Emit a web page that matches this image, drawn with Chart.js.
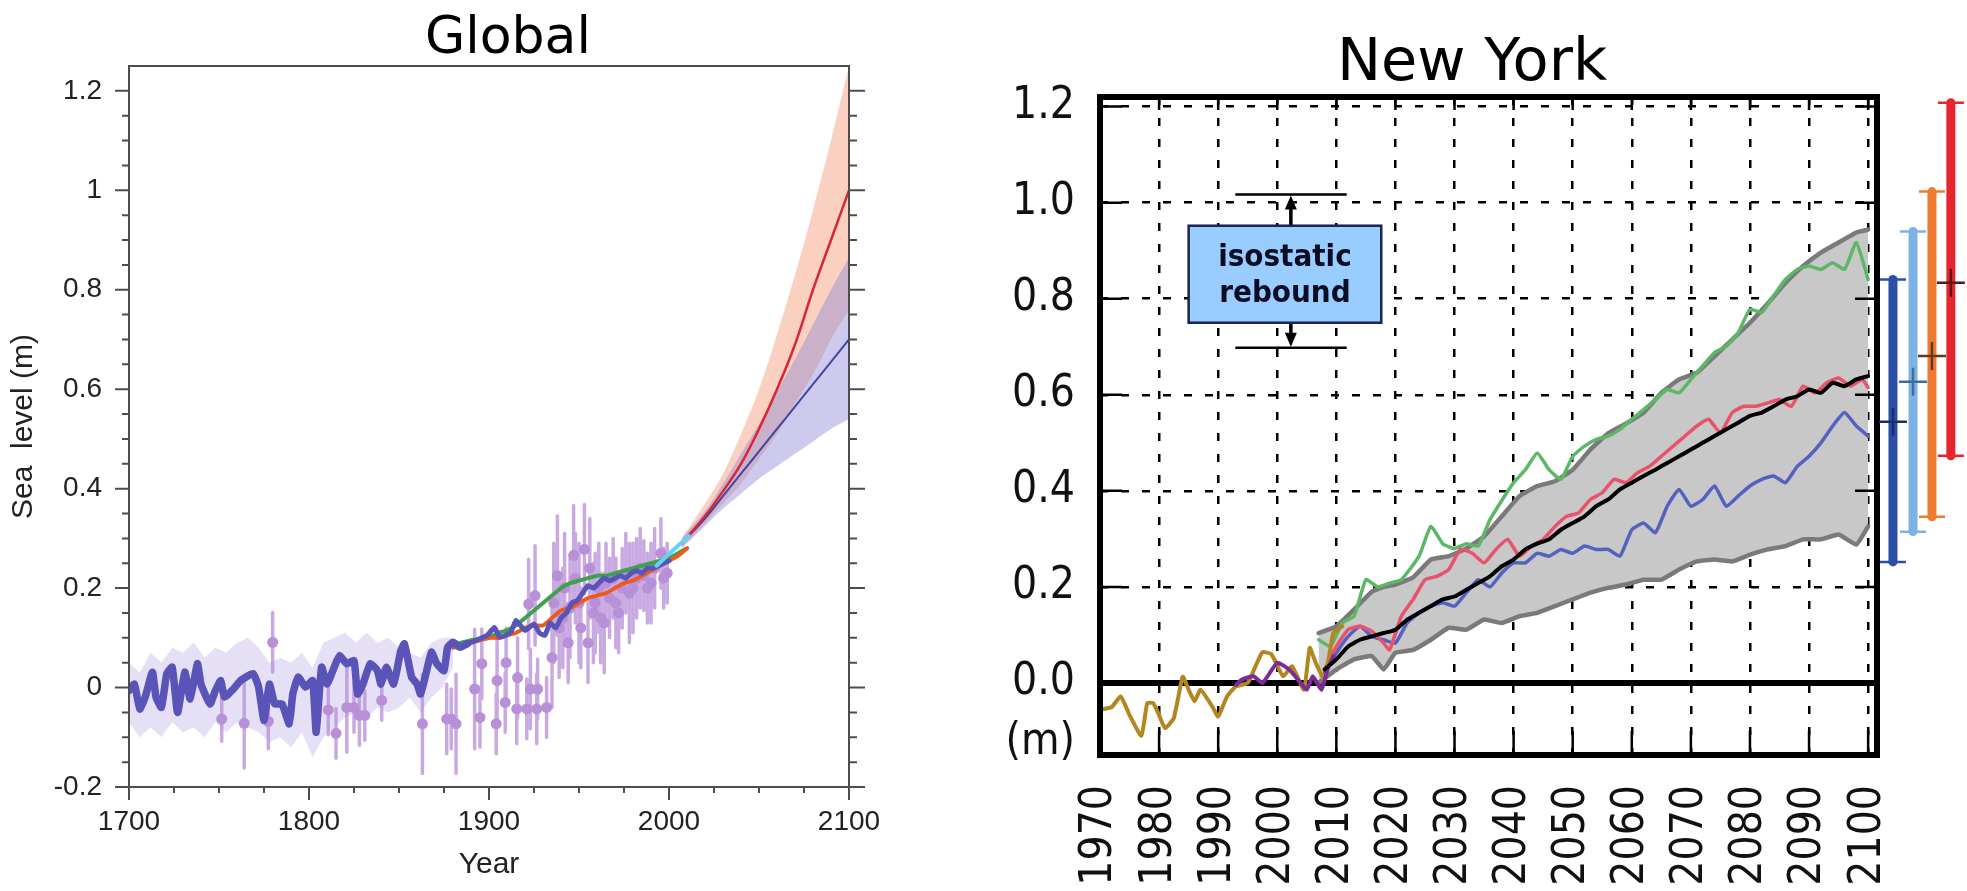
<!DOCTYPE html>
<html>
<head>
<meta charset="utf-8">
<title>Sea level: Global and New York</title>
<script src="https://cdn.jsdelivr.net/npm/chart.js@4.4.1/dist/chart.umd.min.js"></script>
<style>
  html, body { margin: 0; padding: 0; background: #fff; }
  body { position: relative; width: 1967px; height: 891px; overflow: hidden; }
  .panel-title { position: absolute; font-family: "DejaVu Sans", sans-serif; line-height: 1; white-space: nowrap; transform: translateX(-50%); color: #000; }
  #globalTitle { left: 508px; top: 9px; font-size: 52px; }
  #nyTitle { left: 1472px; top: 30px; font-size: 59px; }
  #globalChart { position: absolute; left: 0; top: 0; }
  #nyChart { position: absolute; left: 940px; top: 0; }
</style>
</head>
<body>
<div class="panel-title" id="globalTitle">Global</div>
<div class="panel-title" id="nyTitle">New York</div>
<canvas id="globalChart" width="930" height="891"></canvas>
<canvas id="nyChart" width="1027" height="891"></canvas>
<script>
// ---------- Global panel ----------
const globalYearTicks = [1700, 1800, 1900, 2000, 2100];
const globalLevelTicks = [-0.2, 0, 0.2, 0.4, 0.6, 0.8, 1, 1.2];

// reconstruction (thick slate-blue line)
const reconYears = [1700,1703,1706,1709,1713,1715,1718,1721,1724,1727,1731,1734,1738,1740,1745,1748,1751,1753,1758,1762,
  1765,1769,1772,1775,1778,1781,1785,1789,1791,1794,1798,1802,1804,1807,1810,1814,1817,1821,1825,1827,
  1830,1834,1838,1840,1843,1847,1851,1853,1857,1860,1862,1865,1868,1871,1875,1877,1880,1884,1888,1893,
  1899,1903,1906,1912,1915,1920,1925,1928,1931,1934,1937,1940,1943,1946,1949,1952,1955,1958,1961,1964,
  1967,1970,1973,1976,1979,1982,1985,1988,1991,1994,1997,2000];
const reconLevel = [-0.006,0.007,-0.043,-0.019,0.031,-0.019,-0.040,0.028,0.041,-0.050,0.031,-0.023,0.048,0.007,-0.033,-0.006,0.014,-0.019,-0.003,0.014,
  0.021,0.028,0.001,-0.066,0.007,-0.033,-0.033,-0.073,-0.013,0.021,0.001,0.014,-0.090,0.041,0.007,0.041,0.064,0.048,0.054,-0.013,
  0.007,0.048,0.034,0.007,0.041,0.007,0.074,0.088,0.021,0.007,-0.013,0.028,0.071,0.048,0.034,0.081,0.091,0.081,0.088,0.095,
  0.105,0.121,0.101,0.111,0.135,0.115,0.128,0.11,0.105,0.13,0.12,0.14,0.15,0.17,0.175,0.19,0.205,0.2,0.21,0.22,
  0.215,0.22,0.225,0.22,0.23,0.235,0.23,0.24,0.24,0.245,0.25,0.255];

// reconstruction uncertainty
const reconBandYears = [1700,1706,1712,1718,1724,1730,1736,1742,1748,1754,1760,1766,1772,1778,1784,1790,1796,1802,1808,1814,
  1820,1826,1832,1838,1844,1850,1856,1862,1868,1874,1880];
const reconBandHigh = [0.05,0.03,0.07,0.05,0.08,0.07,0.09,0.06,0.08,0.07,0.09,0.1,0.08,0.05,0.06,0.05,0.07,0.04,0.09,0.1,
  0.11,0.09,0.11,0.09,0.1,0.08,0.07,0.06,0.09,0.1,0.1];
const reconBandLow = [-0.07,-0.1,-0.08,-0.1,-0.07,-0.09,-0.08,-0.1,-0.07,-0.09,-0.07,-0.08,-0.09,-0.11,-0.1,-0.12,-0.09,-0.14,-0.1,-0.08,
  -0.06,-0.05,-0.06,-0.04,-0.05,-0.04,-0.02,-0.05,-0.02,0.0,0.04];

// proxy / gauge points with error bars
const gaugeYears = [1751.5,1764,1777.4,1779.8,1810.7,1815,1821,1825,1828,1831,1840.4,1863,1876.5,1879,1881.7,1892,1895,1896,1904,1904.5,
  1909,1909.5,1915.4,1915.9,1921,1922,1923,1925.6,1926.5,1927,1932,1935,1938,1941,1944,1947,1950,1953,1955,1958,
  1961,1964,1967,1970.5,1974,1978,1982,1986,1990,1995.5,1999,
  1936,1939,1942,1945,1948,1951,1956,1959,1962,1965,1969,1972,1976,1980,1984,1988,1992,1997];
const gaugeLevel = [-0.063,-0.072,-0.068,0.091,-0.045,-0.092,-0.04,-0.04,-0.056,-0.056,-0.026,-0.073,-0.063,-0.063,-0.073,-0.003,-0.06,0.048,-0.073,0.014,
  -0.03,0.05,-0.043,0.02,-0.043,0.168,-0.003,0.185,-0.043,-0.003,-0.04,0.06,0.225,0.14,0.09,0.266,0.17,0.278,0.09,0.15,
  0.2,0.13,0.18,0.17,0.2,0.19,0.22,0.225,0.21,0.27,0.23,
  0.17,0.12,0.2,0.16,0.22,0.12,0.24,0.17,0.14,0.21,0.22,0.15,0.23,0.2,0.24,0.2,0.24,0.22];
const gaugeErr = [0.045,0.09,0.055,0.06,0.05,0.05,0.09,0.05,0.06,0.05,0.04,0.1,0.07,0.06,0.1,0.12,0.06,0.07,0.06,0.08,
  0.06,0.07,0.07,0.08,0.06,0.09,0.08,0.1,0.07,0.06,0.06,0.1,0.12,0.1,0.08,0.1,0.12,0.09,0.08,0.1,
  0.09,0.1,0.08,0.09,0.08,0.1,0.08,0.07,0.08,0.07,0.06,
  0.12,0.1,0.11,0.1,0.09,0.08,0.1,0.1,0.09,0.08,0.08,0.08,0.08,0.09,0.08,0.07,0.08,0.06];

// tide-gauge based series since 1880
const tideYears = [1880,1890,1900,1905,1910,1915,1920,1925,1930,1935,1940,1945,1950,1955,1960,1965,1970,1975,1980,1985,1990,1995,2000,2005,2010];
const tideGreen = [0.085,0.095,0.1,0.11,0.115,0.125,0.14,0.155,0.17,0.185,0.2,0.21,0.215,0.22,0.225,0.225,0.23,0.235,0.24,0.245,0.25,0.255,0.26,0.27,0.28];
const tideOrange = [0.08,0.09,0.1,0.1,0.105,0.11,0.12,0.125,0.125,0.14,0.155,0.16,0.17,0.18,0.185,0.19,0.2,0.21,0.215,0.225,0.235,0.245,0.255,0.265,0.28];

// satellite altimetry
const satYears = [1993,1996,1999,2002,2005,2008,2011];
const satLevel = [0.245,0.255,0.265,0.275,0.285,0.295,0.305];

// projections to 2100
const projYears = [2007,2020,2030,2040,2050,2060,2070,2080,2090,2100];
const highMean  = [0.29,0.345,0.395,0.45,0.52,0.60,0.69,0.80,0.90,1.0];
const highUpper = [0.30,0.37,0.43,0.51,0.60,0.71,0.83,0.96,1.10,1.25];
const highLower = [0.28,0.33,0.37,0.41,0.46,0.51,0.57,0.63,0.70,0.76];
const lowMean   = [0.29,0.34,0.385,0.43,0.475,0.52,0.565,0.61,0.655,0.70];
const lowUpper  = [0.30,0.355,0.41,0.47,0.53,0.595,0.66,0.73,0.80,0.865];
const lowLower  = [0.28,0.325,0.36,0.39,0.42,0.445,0.47,0.495,0.52,0.54];

// ---------- New York panel ----------
const nyYearTicks = [1970,1980,1990,2000,2010,2020,2030,2040,2050,2060,2070,2080,2090,2100];
const nyLevelTicks = [-0.125,0,0.2,0.4,0.6,0.8,1.0,1.2];   // -0.125 carries the unit label

const obsYears = [1970,1972,1973.5,1975,1977,1978,1979,1980,1981,1982.5,1984,1985,1986,1987,1989,1990,1991.5,1993,1995,1996.5,
  1997.5,1999,2001,2002.5,2004.5,2005.5,2006.5,2008,2009.5,2011];
const obsLevel = [-0.056,-0.05,-0.028,-0.067,-0.11,-0.042,-0.042,-0.067,-0.094,-0.073,0.013,-0.014,-0.038,-0.014,-0.049,-0.07,-0.028,-0.007,0.0,0.04,
  0.064,0.06,0.014,0.035,-0.014,0.073,0.042,0.007,0.104,0.118];

const altYears = [1993,1994,1996,1997.5,2000,2002,2003.5,2005,2006,2007.5,2008.5,2009.5];
const altLevel = [-0.004,0.007,0.014,0.0,0.042,0.028,0.007,-0.014,0.014,-0.014,0.028,0.056];

const rangeYears = [2007,2010,2013,2016,2018,2020,2023,2026,2029,2032,2035,2038,2041,2044,2047,2050,2053,2056,2059,2062,
  2065,2068,2071,2074,2077,2080,2083,2086,2089,2092,2095,2098,2100];
const rangeUpper = [0.104,0.118,0.153,0.19,0.2,0.205,0.22,0.257,0.264,0.28,0.305,0.347,0.389,0.41,0.42,0.444,0.486,0.52,0.54,0.563,
  0.604,0.632,0.646,0.68,0.715,0.75,0.79,0.833,0.868,0.896,0.917,0.938,0.944];
const rangeLower = [0.0,0.028,0.049,0.056,0.028,0.063,0.069,0.09,0.115,0.111,0.132,0.125,0.139,0.146,0.16,0.174,0.188,0.198,0.205,0.215,
  0.215,0.236,0.253,0.257,0.253,0.267,0.278,0.285,0.299,0.299,0.309,0.288,0.326];

const greenYears = [2007,2009,2011,2013,2015,2017,2019,2021,2024,2026,2028,2030,2032,2034,2036,2038,2040,2042,2044,2046,
  2048,2050,2052,2054,2056,2058,2060,2062,2064,2066,2068,2070,2072,2074,2076,2078,2080,2082,2084,2086,
  2088,2090,2092,2094,2096,2098,2100];
const greenLevel = [0.09,0.076,0.125,0.139,0.215,0.2,0.208,0.215,0.264,0.326,0.29,0.28,0.29,0.285,0.34,0.38,0.417,0.444,0.479,0.444,
  0.424,0.472,0.493,0.507,0.514,0.528,0.549,0.569,0.59,0.611,0.604,0.632,0.66,0.688,0.701,0.729,0.778,0.771,0.806,0.84,
  0.861,0.868,0.861,0.875,0.861,0.917,0.84];

const redYears = [2008,2010,2012,2014,2016,2018,2019,2021,2023,2025,2027,2029,2031,2033,2035,2037,2039,2041,2043,2045,
  2047,2049,2051,2053,2055,2057,2059,2061,2063,2065,2067,2069,2071,2073,2075,2077,2079,2081,2083,2085,
  2087,2089,2091,2093,2095,2097,2099,2100];
const redLevel = [0.028,0.076,0.111,0.118,0.108,0.083,0.069,0.139,0.174,0.215,0.222,0.236,0.278,0.27,0.25,0.278,0.299,0.264,0.285,0.299,
  0.326,0.347,0.354,0.382,0.396,0.424,0.417,0.438,0.451,0.472,0.493,0.514,0.535,0.549,0.521,0.563,0.576,0.576,0.583,0.59,
  0.576,0.618,0.604,0.625,0.635,0.618,0.632,0.615];

const evenYears = [2008,2010,2012,2014,2016,2018,2020,2022,2024,2026,2028,2030,2032,2034,2036,2038,2040,2042,2044,2046,
  2048,2050,2052,2054,2056,2058,2060,2062,2064,2066,2068,2070,2072,2074,2076,2078,2080,2082,2084,2086,
  2088,2090,2092,2094,2096,2098,2100];
const blueLevel = [0.021,0.063,0.097,0.118,0.097,0.09,0.083,0.125,0.146,0.16,0.167,0.16,0.188,0.215,0.2,0.229,0.25,0.25,0.27,0.264,
  0.278,0.27,0.285,0.278,0.278,0.264,0.319,0.333,0.313,0.368,0.403,0.368,0.382,0.41,0.368,0.389,0.41,0.424,0.431,0.417,
  0.451,0.472,0.5,0.535,0.563,0.535,0.514];
const meanLevel = [0.028,0.049,0.076,0.09,0.097,0.104,0.111,0.132,0.146,0.16,0.174,0.18,0.194,0.208,0.222,0.243,0.257,0.278,0.29,0.299,
  0.319,0.333,0.347,0.368,0.382,0.403,0.417,0.431,0.444,0.458,0.472,0.486,0.5,0.514,0.528,0.542,0.556,0.563,0.576,0.59,
  0.597,0.611,0.604,0.625,0.618,0.632,0.639];

// 2100 ranges shown beside the frame
const rangeSlots = [2104.2, 2107.6, 2110.8, 2114.0];
const rangeLow  = [0.252, 0.315, 0.346, 0.473];
const rangeHigh = [0.84, 0.94, 1.023, 1.208];
const rangeMid  = [0.544, 0.627, 0.681, 0.833];
const rangeColors = ['#2b4fa6', '#7db2e6', '#ef7b33', '#e5262f'];
const rangeMidColors = ['#1b2e6a', '#3d6d9e', '#6a3519', '#5e1616'];

// isostatic rebound marker (data units)
const rebound = { boxX: [1985, 2017.6], boxY: [0.75, 0.952], arrowX: 2002.3, lineX: [1992.9, 2011.75], top: 1.017, bottom: 0.698 };

const pts = (xs, ys) => xs.map((x, i) => ({ x, y: ys[i] }));
const arial = '"Liberation Sans", Arial, sans-serif';
const tickFont = { family: arial, size: 28 };
const nyFont = '"DejaVu Sans Condensed", "DejaVu Sans", sans-serif';

const globalFrame = {
  id: 'globalFrame',
  afterDraw(chart) {
    const { ctx, chartArea: a, scales: { x, y } } = chart;
    ctx.save();
    ctx.strokeStyle = '#4d4d4d';
    ctx.lineWidth = 2;
    ctx.strokeRect(a.left, a.top, a.right - a.left, a.bottom - a.top);
    ctx.beginPath();
    for (let i = 0; i <= 28; i++) {
      const major = i % 4 === 0;
      const py = y.getPixelForValue(-0.2 + i * 0.05);
      ctx.moveTo(a.left - (major ? 14 : 7), py); ctx.lineTo(a.left, py);
      ctx.moveTo(a.right, py); ctx.lineTo(a.right + (major ? 16 : 8), py);
    }
    for (let yr = 1700; yr <= 2100; yr += 25) {
      const px = x.getPixelForValue(yr);
      ctx.moveTo(px, a.bottom); ctx.lineTo(px, a.bottom + (yr % 100 === 0 ? 13 : 6));
    }
    ctx.stroke();
    ctx.restore();
  }
};

new Chart(document.getElementById('globalChart'), {
  type: 'line',
  data: {
    datasets: [
      { data: pts(satYears, satLevel), borderColor: '#5fd3f3', borderWidth: 4, tension: 0.2, order: 0 },
      { data: pts(reconYears, reconLevel), borderColor: '#5a54b8', borderWidth: 6, tension: 0.15, order: 1,
        segment: { borderWidth: c => (c.p0.parsed.x < 1885 ? 7.5 : 5) } },
      { data: pts(tideYears, tideOrange), borderColor: '#ec5a1e', borderWidth: 4, tension: 0.2, order: 2 },
      { data: pts(tideYears, tideGreen), borderColor: '#3da24c', borderWidth: 4, tension: 0.2, order: 3 },
      { data: pts(projYears, highMean), borderColor: '#d92636', borderWidth: 2.5, tension: 0.4, order: 4 },
      { data: pts(projYears, lowMean), borderColor: '#3e47a6', borderWidth: 2, tension: 0.4, order: 5 },
      { data: pts(gaugeYears, gaugeLevel), showLine: false, pointRadius: 5.5, pointBorderWidth: 0,
        pointBackgroundColor: '#b790d8', order: 6 },
      { data: gaugeYears.flatMap((yr, i) => [{ x: yr, y: gaugeLevel[i] - gaugeErr[i] }, { x: yr, y: gaugeLevel[i] + gaugeErr[i] }, { x: yr, y: null }]),
        borderColor: 'rgba(183,140,216,0.75)', borderWidth: 3.5, spanGaps: false, order: 7 },
      { data: pts(projYears, lowUpper), borderColor: 'rgba(0,0,0,0)', backgroundColor: 'rgba(146,138,214,0.45)', fill: '+1', tension: 0.4, order: 8 },
      { data: pts(projYears, lowLower), borderColor: 'rgba(0,0,0,0)', tension: 0.4, order: 8 },
      { data: pts(projYears, highUpper), borderColor: 'rgba(0,0,0,0)', backgroundColor: 'rgba(245,170,142,0.55)', fill: '+1', tension: 0.4, order: 9 },
      { data: pts(projYears, highLower), borderColor: 'rgba(0,0,0,0)', tension: 0.4, order: 9 },
      { data: pts(reconBandYears, reconBandHigh), borderColor: 'rgba(0,0,0,0)', backgroundColor: 'rgba(192,182,232,0.42)', fill: '+1', order: 10 },
      { data: pts(reconBandYears, reconBandLow), borderColor: 'rgba(0,0,0,0)', order: 10 }
    ]
  },
  options: {
    responsive: false,
    animation: false,
    layout: { padding: { top: 66, right: 81, left: 0, bottom: 0 } },
    elements: { point: { radius: 0 }, line: { borderJoinStyle: 'round', borderCapStyle: 'round' } },
    plugins: { legend: { display: false }, tooltip: { enabled: false } },
    scales: {
      x: {
        type: 'linear', min: 1700, max: 2100,
        afterBuildTicks: s => { s.ticks = globalYearTicks.map(v => ({ value: v })); },
        afterFit: s => { s.height = 104; },
        grid: { display: false, drawTicks: false },
        border: { display: false },
        ticks: { padding: 18, color: '#222', font: tickFont, maxRotation: 0, autoSkip: false, callback: v => String(v) },
        title: { display: true, text: 'Year', color: '#222', font: { family: arial, size: 30 }, padding: { top: 0, bottom: 8 } }
      },
      y: {
        min: -0.2, max: 1.25,
        afterBuildTicks: s => { s.ticks = globalLevelTicks.map(v => ({ value: v })); },
        afterFit: s => { s.width = 129; },
        grid: { display: false, drawTicks: false },
        border: { display: false },
        ticks: { padding: 27, color: '#222', font: tickFont, callback: v => String(Number(v.toFixed(1))) },
        title: { display: true, text: 'Sea  level (m)', color: '#222', font: { family: arial, size: 30 }, padding: { top: 6, bottom: 0 } }
      }
    }
  },
  plugins: [globalFrame]
});

const nyFrame = {
  id: 'nyFrame',
  beforeDatasetsDraw(chart) {
    const { ctx, chartArea: a, scales: { y } } = chart;
    const py = y.getPixelForValue(0);
    ctx.save();
    ctx.strokeStyle = '#000';
    ctx.lineWidth = 6;
    ctx.beginPath(); ctx.moveTo(a.left, py); ctx.lineTo(a.right, py); ctx.stroke();
    ctx.restore();
  },
  afterDatasetsDraw(chart) {
    const { ctx, chartArea: a, scales: { x, y } } = chart;
    ctx.save();
    ctx.strokeStyle = '#000';
    ctx.lineWidth = 2.5;
    ctx.beginPath();
    nyYearTicks.forEach(v => {
      const px = x.getPixelForValue(v);
      ctx.moveTo(px, a.bottom); ctx.lineTo(px, a.bottom - 24);
      ctx.moveTo(px, a.top); ctx.lineTo(px, a.top + 13);
    });
    nyLevelTicks.filter(v => v > 0).forEach(v => {
      const py = y.getPixelForValue(v);
      ctx.moveTo(a.left, py); ctx.lineTo(a.left + 22, py);
      ctx.moveTo(a.right, py); ctx.lineTo(a.right - 22, py);
    });
    ctx.stroke();
    ctx.lineWidth = 6;
    ctx.strokeRect(a.left, a.top, a.right - a.left, a.bottom - a.top);

    // end caps and median crosses of the 2100 ranges
    rangeSlots.forEach((slot, i) => {
      const px = x.getPixelForValue(slot);
      ctx.strokeStyle = rangeColors[i];
      ctx.lineWidth = 2.5;
      ctx.beginPath();
      [rangeLow[i], rangeHigh[i]].forEach(v => {
        const py = y.getPixelForValue(v);
        ctx.moveTo(px - 13, py); ctx.lineTo(px + 13, py);
      });
      ctx.stroke();
      const my = y.getPixelForValue(rangeMid[i]);
      ctx.strokeStyle = rangeMidColors[i];
      ctx.beginPath();
      ctx.moveTo(px - 14, my); ctx.lineTo(px + 14, my);
      ctx.moveTo(px, my - 14); ctx.lineTo(px, my + 14);
      ctx.stroke();
    });

    // isostatic rebound box with arrows
    const bx0 = x.getPixelForValue(rebound.boxX[0]), bx1 = x.getPixelForValue(rebound.boxX[1]);
    const by0 = y.getPixelForValue(rebound.boxY[1]), by1 = y.getPixelForValue(rebound.boxY[0]);
    const ax = x.getPixelForValue(rebound.arrowX);
    const ty = y.getPixelForValue(rebound.top), dy = y.getPixelForValue(rebound.bottom);
    const lx0 = x.getPixelForValue(rebound.lineX[0]), lx1 = x.getPixelForValue(rebound.lineX[1]);
    ctx.strokeStyle = '#000';
    ctx.lineWidth = 2.5;
    ctx.beginPath();
    ctx.moveTo(lx0, ty); ctx.lineTo(lx1, ty);
    ctx.moveTo(lx0, dy); ctx.lineTo(lx1, dy);
    ctx.stroke();
    ctx.lineWidth = 3.5;
    ctx.beginPath();
    ctx.moveTo(ax, by0); ctx.lineTo(ax, ty + 12);
    ctx.moveTo(ax, by1); ctx.lineTo(ax, dy - 12);
    ctx.stroke();
    ctx.fillStyle = '#000';
    ctx.beginPath();
    ctx.moveTo(ax, ty + 1); ctx.lineTo(ax - 6, ty + 15); ctx.lineTo(ax + 6, ty + 15); ctx.closePath();
    ctx.moveTo(ax, dy - 1); ctx.lineTo(ax - 6, dy - 15); ctx.lineTo(ax + 6, dy - 15); ctx.closePath();
    ctx.fill();
    ctx.fillStyle = '#99ccff';
    ctx.fillRect(bx0, by0, bx1 - bx0, by1 - by0);
    ctx.strokeStyle = '#1b2350';
    ctx.lineWidth = 2.5;
    ctx.strokeRect(bx0, by0, bx1 - bx0, by1 - by0);
    ctx.fillStyle = '#0c0c22';
    ctx.font = 'bold 31px ' + nyFont;
    ctx.textAlign = 'center';
    ctx.textBaseline = 'middle';
    const cx = (bx0 + bx1) / 2, cy = (by0 + by1) / 2;
    ctx.fillText('isostatic', cx, cy - 16);
    ctx.fillText('rebound', cx, cy + 20);
    ctx.restore();
  }
};

const nyLine = (xs, ys, color, width, order) => ({
  data: pts(xs, ys), borderColor: color, borderWidth: width, tension: 0.15, order
});

const nyDatasets = [
  nyLine(evenYears, meanLevel, '#000000', 4, 0),
  nyLine(altYears, altLevel, '#7b2b9c', 4, 1),
  nyLine(obsYears, obsLevel, '#b3861f', 4, 2),
  nyLine(redYears, redLevel, '#e8526a', 3.5, 3),
  nyLine(evenYears, blueLevel, '#5461c0', 3.5, 4),
  nyLine(greenYears, greenLevel, '#5db866', 3.5, 5),
  { data: pts(rangeYears, rangeUpper), borderColor: '#7a7a7a', borderWidth: 4.5, backgroundColor: '#c8c8c8', fill: '+1', tension: 0.1, order: 7 },
  { data: pts(rangeYears, rangeLower), borderColor: '#7a7a7a', borderWidth: 4.5, tension: 0.1, order: 6 }
];
rangeSlots.forEach((slot, i) => {
  nyDatasets.push({
    data: [{ x: slot, y: rangeLow[i] }, { x: slot, y: rangeHigh[i] }],
    borderColor: rangeColors[i], borderWidth: 9, borderCapStyle: 'round',
    clip: false, order: 8
  });
});

new Chart(document.getElementById('nyChart'), {
  type: 'line',
  data: { datasets: nyDatasets },
  options: {
    responsive: false,
    animation: false,
    layout: { padding: { top: 97, right: 90, left: 0, bottom: 0 } },
    elements: { point: { radius: 0 }, line: { borderJoinStyle: 'round', borderCapStyle: 'round' } },
    plugins: { legend: { display: false }, tooltip: { enabled: false } },
    scales: {
      x: {
        type: 'linear', min: 1970, max: 2101.5,
        afterBuildTicks: s => { s.ticks = nyYearTicks.map(v => ({ value: v })); },
        afterFit: s => { s.height = 136; },
        grid: { color: '#000', lineWidth: 2.5, drawTicks: false },
        border: { display: false, dash: [8, 13] },
        ticks: { minRotation: 90, maxRotation: 90, autoSkip: false, padding: 30, color: '#111',
                 font: { family: nyFont, size: 44 }, callback: v => String(v) }
      },
      y: {
        min: -0.15, max: 1.22,
        afterBuildTicks: s => { s.ticks = nyLevelTicks.map(v => ({ value: v })); },
        afterFit: s => { s.width = 160; },
        grid: { color: c => (c.tick && c.tick.value <= 0 ? 'rgba(0,0,0,0)' : '#000'), lineWidth: 2.5, drawTicks: false },
        border: { display: false, dash: [8, 13] },
        ticks: { padding: 25, color: '#111', font: { family: nyFont, size: 44 }, callback: v => (v < 0 ? '(m)' : v.toFixed(1)) }
      }
    }
  },
  plugins: [nyFrame]
});
</script>
</body>
</html>
